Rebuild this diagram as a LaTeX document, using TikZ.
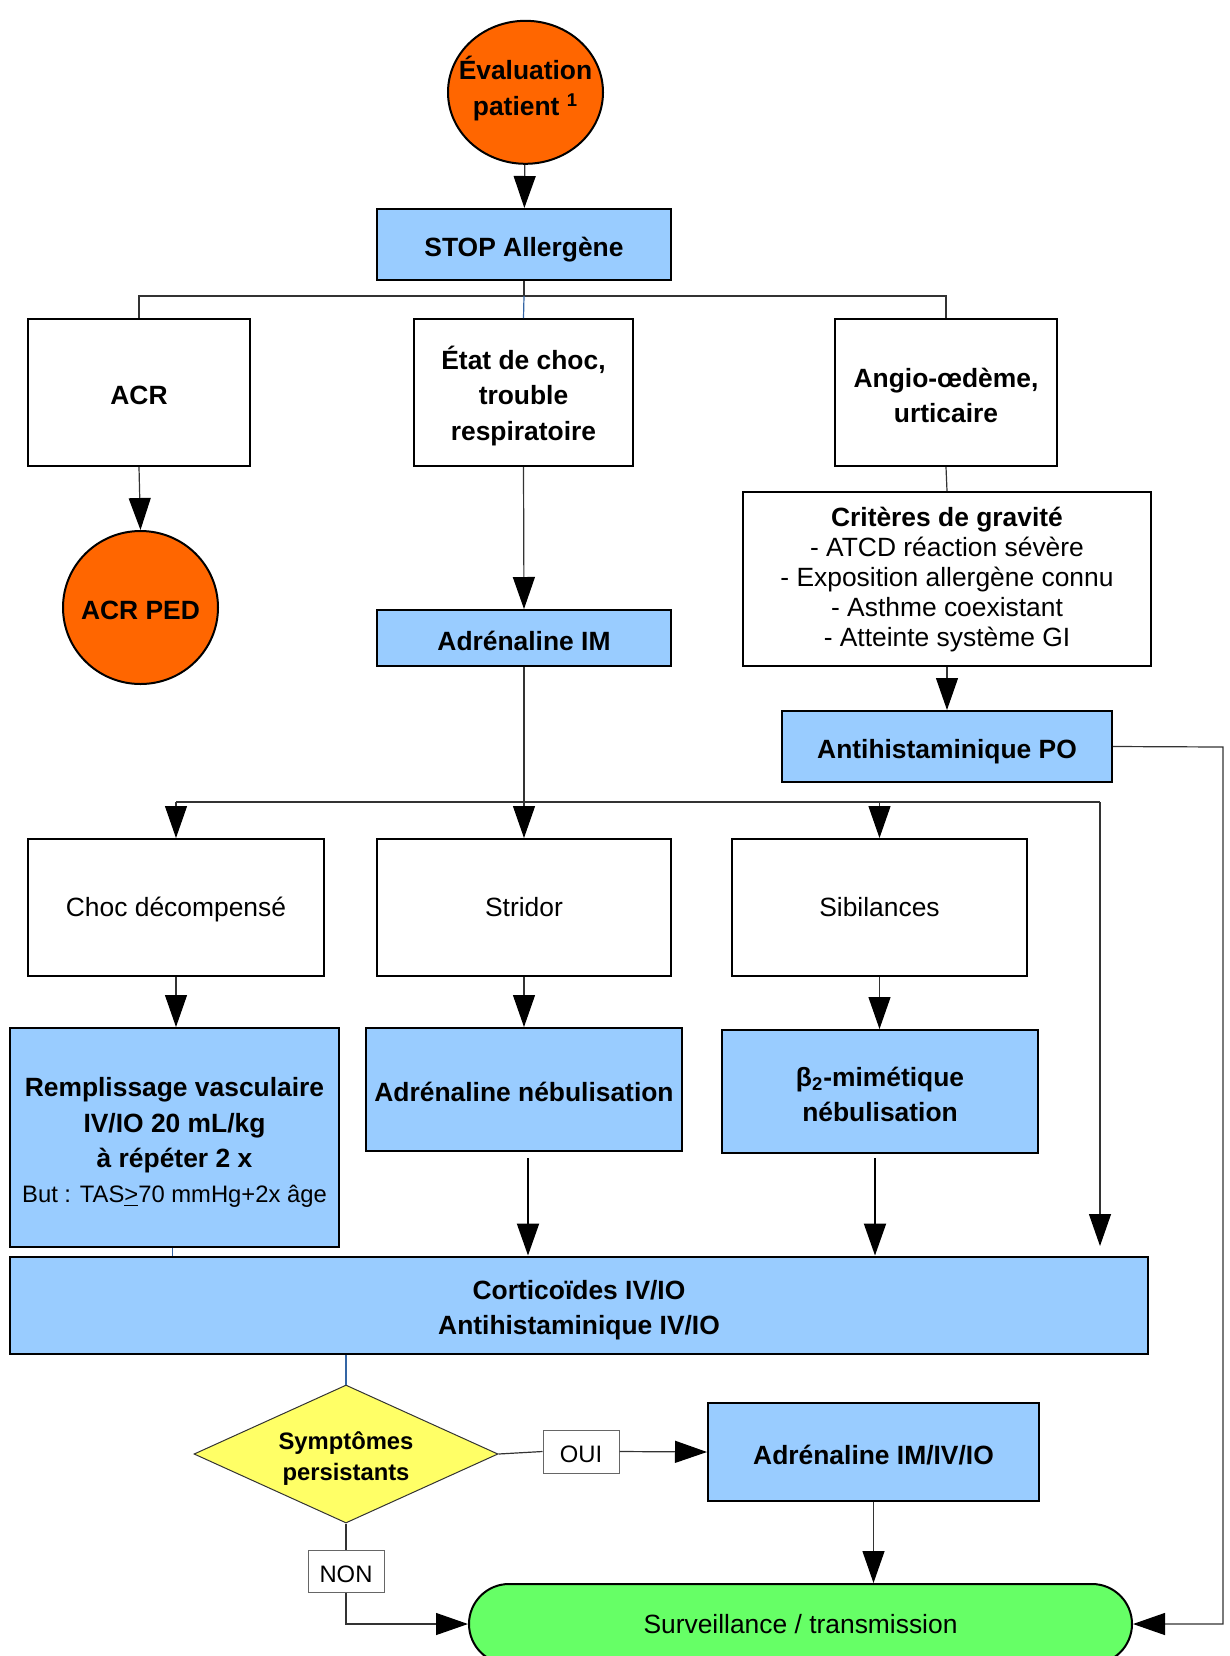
\documentclass[tikz,border=0pt]{standalone}
\usepackage{fontspec}
\setmainfont{Liberation Sans}
\usetikzlibrary{arrows.meta,shapes.geometric}

\definecolor{orangeC}{HTML}{FF6600}
\definecolor{blueF}{HTML}{99CCFF}
\definecolor{yellowF}{HTML}{FFFF66}
\definecolor{greenF}{HTML}{66FF66}
\definecolor{linkblue}{HTML}{3465A4}

% struts giving every line a fixed ascent/descent, so text sits the same way in each box
\newcommand\bT{\rule{0pt}{1.135em}}
\newcommand\bB{\rule[-0.205em]{0pt}{0.205em}}
\newcommand\rT{\rule{0pt}{0.905em}}
\newcommand\rB{\rule[-0.212em]{0pt}{0.212em}}

\begin{document}
\begin{tikzpicture}[x=0.5pt,y=-0.5pt,
  every node/.style={align=center, inner sep=0pt},
  sz/.style 2 args={minimum width=#1*0.5pt, minimum height=#2*0.5pt},
  bigbold/.style={font=\fontsize{13.2}{17.7}\selectfont\bfseries},
  bigreg/.style={font=\fontsize{13.2}{15}\selectfont},
  smallbold/.style={font=\fontsize{11.9}{15.8}\selectfont\bfseries},
  smallreg/.style={font=\fontsize{11.9}{14}\selectfont},
  bluebox/.style={draw=black, line width=1pt, fill=blueF, bigbold},
  whitebox/.style={draw=black, line width=1pt, fill=white},
  orangedisc/.style={ellipse, draw=black, line width=1pt, fill=orangeC, bigbold, inner xsep=-7pt},
  decision/.style={diamond, draw=black!80, line width=0.5pt, fill=yellowF, smallbold},
  tagbox/.style={draw=black!60, line width=0.5pt, fill=white, smallreg},
  endcap/.style={draw=black, line width=1pt, fill=greenF, rounded corners=20pt, bigreg},
  conn/.style={draw=black!80, line width=0.6pt},
  linkb/.style={draw=linkblue, line width=0.6pt},
  tip/.style={-{Triangle[length=16pt,width=11pt,color=black]}},
  arr/.style={conn, tip},
  heavyarr/.style={draw=black, line width=1pt, tip}
]
\useasboundingbox (0,0) rectangle (1230,1656);

% ---- top ----
\node[orangedisc, sz={155}{143}] (eval) at (525.5,92.3) {Évaluation\\patient \textsuperscript{1}\rule[-0.5em]{0pt}{0.5em}};
\node[bluebox, sz={294}{71}] (stop) at (524,244.5) {\bT STOP Allergène\bB};

% ---- first branch row ----
\node[whitebox, bigbold, sz={221.5}{147}] (acr) at (139,392.5) {\bT ACR\bB};
\node[whitebox, bigbold, sz={219}{147}] (etat) at (523.5,392.5) {\bT État de choc,\\trouble\\respiratoire\bB};
\node[whitebox, bigbold, sz={222}{147}] (angio) at (946,392.5) {\bT Angio-œdème,\\urticaire\bB};

\node[orangedisc, sz={155}{153}] (acrped) at (140.5,607.5) {\bT ACR PED\bB};
\node[bluebox, sz={294}{56}] (adrim) at (524,638) {\bT Adrénaline IM\bB};
\node[whitebox, bigreg, sz={408}{174}] (crit) at (947,579)
  {\rT\textbf{Critères de gravité}\\- ATCD réaction sévère\\- Exposition allergène connu\\- Asthme coexistant\\- Atteinte système GI\rule[-0.36em]{0pt}{0.36em}};
\node[bluebox, sz={330}{71}] (ahpo) at (947,746.5) {\bT Antihistaminique PO\bB};

% ---- symptoms row ----
\node[whitebox, bigreg, sz={295.5}{137}] (choc) at (176,907.5) {\rT Choc décompensé\rB};
\node[whitebox, bigreg, sz={294}{137}] (stridor) at (524,907.5) {\rT Stridor\rB};
\node[whitebox, bigreg, sz={295}{137}] (sib) at (879.5,907.5) {\rT Sibilances\rB};

% ---- treatments row ----
\node[bluebox, sz={329.5}{219}] (rempl) at (174.5,1137.5)
  {\bT Remplissage vasculaire\\IV/IO 20 mL/kg\\à répéter 2 x\\{\mdseries\fontsize{11.9}{14}\selectfont But : TAS\underline{>}70 mmHg+2x âge}\bB};
\node[bluebox, sz={316}{123}] (adrneb) at (524,1089.5) {\bT Adrénaline nébulisation\bB};
\node[bluebox, sz={316}{123}] (beta) at (880,1091.5) {\bT β\textsubscript{2}-mimétique\\nébulisation\bB};

\node[bluebox, sz={1138.5}{97}] (cortico) at (579,1305) {\bT Corticoïdes IV/IO\\Antihistaminique IV/IO\bB};

% ---- bottom ----
\node[decision, sz={304}{138}, aspect=2.2] (diam) at (346,1454) {\bT Symptômes\\persistants\bB};
\node[tagbox, sz={76}{43}] (oui) at (581,1451.5) {\bT OUI\bB};
\node[bluebox, sz={331}{98}] (adriv) at (873.5,1452) {\bT Adrénaline IM/IV/IO\bB};
\node[tagbox, sz={76}{42}] (non) at (346,1571) {\bT NON\bB};
\node[endcap, sz={663}{80}] (surv) at (800.5,1624) {\rT Surveillance / transmission\rB};

% ---- connectors ----
\coordinate (b1) at (524,296);
\coordinate (b2) at (524,802);
\coordinate (b2r) at (1100,802);
\coordinate (cin) at (1100,1246);
\coordinate (rt) at (1223,747);

\draw[arr] (eval) -- (stop);
\draw[conn] (stop.south) -- (b1);
\draw[conn] (acr.north) |- (b1) -| (angio.north);
\draw[linkb] (b1) -- (etat.north);
\draw[arr] (acr.south) -- (acrped.north);
\draw[arr] (etat.south) -- (adrim.north);
\draw[conn] (angio.south) -- (crit.north);
\draw[arr] (crit.south) -- (ahpo.north);

\draw[conn] (adrim.south) -- (b2);
\draw[conn] (b2 -| choc.north) -- (b2r);
\draw[arr] (b2r) -- (cin);
\draw[arr] (b2 -| choc.north) -- (choc.north);
\draw[arr] (b2) -- (stridor.north);
\draw[arr] (b2 -| sib.north) -- (sib.north);

\draw[arr] (choc.south) -- (choc.south |- rempl.north);
\draw[arr] (stridor.south) -- (adrneb.north);
\draw[arr] (sib.south) -- (sib.south |- beta.north);

\draw[heavyarr] ([xshift=2pt,yshift=-3pt]adrneb.south) -- ([xshift=2pt]adrneb.south |- cortico.north);
\draw[heavyarr] ([xshift=-2.5pt,yshift=-2pt]beta.south) -- ([xshift=-2.5pt]beta.south |- cortico.north);
\draw[linkb] ([xshift=-1pt]rempl.south) -- ([xshift=-1pt]rempl.south |- cortico.north);
\draw[linkb] (cortico.south -| diam.north) -- (diam.north);

\draw[conn] (diam.east) -- (oui.west);
\draw[arr] (oui.east) -- (adriv.west);
\draw[arr] (adriv.south) -- (adriv.south |- surv.north);
\draw[conn] (diam.south) -- (non.north);
\draw[arr] (non.south) |- (surv.west);
\draw[arr] (ahpo.east) -- (rt) |- (surv.east);
\end{tikzpicture}
\end{document}
